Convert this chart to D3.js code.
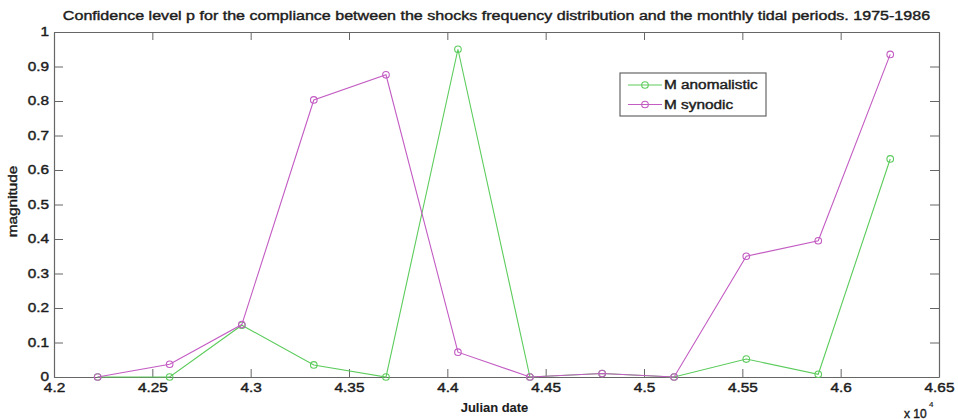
<!DOCTYPE html>
<html><head><meta charset="utf-8">
<script src="https://cdn.jsdelivr.net/npm/d3@7"></script>
<style>
body{margin:0;background:#fff}
svg{display:block}
text{font-family:"Liberation Sans",Arial,Helvetica,sans-serif;fill:#1c1c1c;stroke:#1c1c1c;stroke-width:0.4px}
</style>
</head><body>
<svg id="chart" width="958" height="420"></svg>
<script>
// ---- data ----
const julianDates = [42222, 42588, 42955, 43321, 43688, 44054, 44420, 44787, 45153, 45520, 45886, 46252];
const mAnomalistic = [0, 0, 0.15, 0.035, 0, 0.95, 0, 0.01, 0, 0.052, 0.008, 0.632];
const mSynodic     = [0, 0.037, 0.152, 0.803, 0.876, 0.072, 0, 0.01, 0, 0.35, 0.395, 0.935];
const seriesNames  = ["M anomalistic", "M synodic"];
const seriesColors = ["#5ccc5c", "#c35cc3"];
const xTicks = [42000, 42500, 43000, 43500, 44000, 44500, 45000, 45500, 46000, 46500];
const yTicks = [0, 0.1, 0.2, 0.3, 0.4, 0.5, 0.6, 0.7, 0.8, 0.9, 1];
const titleText = "Confidence level p for the compliance between the shocks frequency distribution and the monthly tidal periods. 1975-1986";
const xLabel = "Julian date";
const yLabel = "magnitude";
const xExponentBase = "x 10";
const xExponent = "4";

// ---- layout ----
const L = 54, R = 939, T = 32, B = 377;
const SX = 1.28; // horizontal glyph stretch of the reference
const svg = d3.select("#chart");

const x = d3.scaleLinear().domain([42000, 46500]).range([L, R]);
const y = d3.scaleLinear().domain([0, 1]).range([B, T]);

function stretch(sel, sx) {
  sel.each(function () {
    const t = d3.select(this);
    const px = +t.attr("x") || 0, py = +t.attr("y") || 0;
    t.attr("transform", `translate(${px},${py}) scale(${sx},1) translate(${-px},${-py})`);
  });
}

const axisColor = "#666";
const fmtX = d => String(+(d / 1e4).toFixed(3));
const fmtY = d => String(+d.toFixed(2));

// axes with inward ticks (box on)
const gB = svg.append("g").attr("transform", `translate(0,${B})`)
  .call(d3.axisBottom(x).tickValues(xTicks).tickFormat(fmtX).tickSizeInner(-8).tickSizeOuter(0).tickPadding(6));
const gL = svg.append("g").attr("transform", `translate(${L},0)`)
  .call(d3.axisLeft(y).tickValues(yTicks).tickFormat(fmtY).tickSizeInner(-9).tickSizeOuter(0).tickPadding(5));
const gT = svg.append("g").attr("transform", `translate(0,${T})`)
  .call(d3.axisTop(x).tickValues(xTicks).tickFormat("").tickSizeInner(-8).tickSizeOuter(0));
const gR = svg.append("g").attr("transform", `translate(${R},0)`)
  .call(d3.axisRight(y).tickValues(yTicks).tickFormat("").tickSizeInner(-9).tickSizeOuter(0));

[gB, gL, gT, gR].forEach(g => {
  g.selectAll("path.domain").attr("stroke", axisColor).attr("stroke-width", 1.2);
  g.selectAll(".tick line").attr("stroke", axisColor).attr("stroke-width", 1);
  g.selectAll("text").attr("font-size", 12).attr("fill", "#1c1c1c")
    .attr("font-family", '"Liberation Sans",Arial,sans-serif');
});
stretch(gB.selectAll(".tick text"), SX);
stretch(gL.selectAll(".tick text"), SX);

// ---- series ----
const series = [mAnomalistic, mSynodic];
series.forEach((vals, i) => {
  const pts = julianDates.map((d, k) => [d, vals[k]]);
  svg.append("path")
    .datum(pts)
    .attr("fill", "none")
    .attr("stroke", seriesColors[i])
    .attr("stroke-width", 1.1)
    .attr("d", d3.line().x(d => x(d[0])).y(d => y(d[1])));
  svg.append("g").selectAll("circle").data(pts).join("circle")
    .attr("cx", d => x(d[0])).attr("cy", d => y(d[1])).attr("r", 3.3)
    .attr("fill", "none").attr("stroke", seriesColors[i]).attr("stroke-width", 1.1);
});

// ---- title & labels ----
const title = svg.append("text").attr("x", (L + R) / 2).attr("y", 20)
  .attr("text-anchor", "middle").attr("font-size", 13).text(titleText);
const tw = title.node().getComputedTextLength();
stretch(title, 868 / tw);

const xl = svg.append("text").attr("x", (L + R) / 2 - 2).attr("y", 412)
  .attr("text-anchor", "middle").attr("font-size", 12).attr("font-weight", "bold")
  .style("stroke-width", "0.1px").text(xLabel);
stretch(xl, 1.08);

const yl = svg.append("g").attr("transform", `translate(17,${(T + B) / 2 - 3}) rotate(-90)`)
  .append("text").attr("x", 0).attr("y", 0).attr("text-anchor", "middle").attr("font-size", 12).text(yLabel);
stretch(yl, SX);

svg.append("text").attr("x", 904).attr("y", 418).attr("font-size", 12).text(xExponentBase);
svg.append("text").attr("x", 929).attr("y", 407).attr("font-size", 8).style("stroke-width", "0.2px").text(xExponent);

// ---- legend ----
const lg = svg.append("g");
lg.append("rect").attr("x", 620).attr("y", 73).attr("width", 146).attr("height", 43)
  .attr("fill", "#fff").attr("stroke", axisColor).attr("stroke-width", 1.2);
seriesNames.forEach((name, i) => {
  const cy = 85 + i * 19.5;
  lg.append("line").attr("x1", 628).attr("x2", 662).attr("y1", cy).attr("y2", cy)
    .attr("stroke", seriesColors[i]).attr("stroke-width", 1.1);
  lg.append("circle").attr("cx", 645).attr("cy", cy).attr("r", 3.3)
    .attr("fill", "none").attr("stroke", seriesColors[i]).attr("stroke-width", 1.1);
  const t = lg.append("text").attr("x", 664).attr("y", cy + 4.3).attr("font-size", 12).text(name);
  stretch(t, SX);
});
</script>
</body></html>
